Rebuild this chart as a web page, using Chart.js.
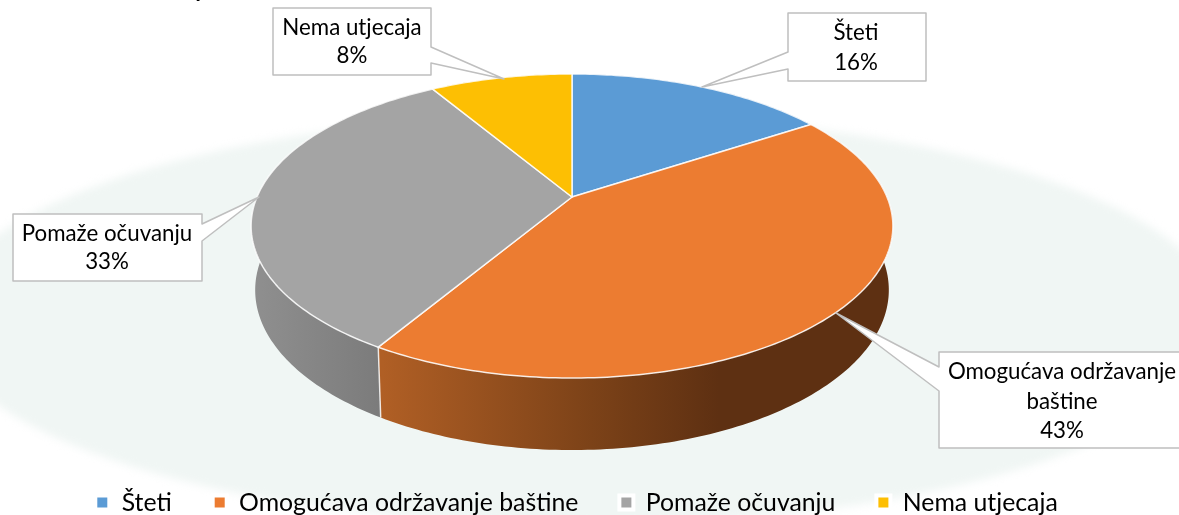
<!DOCTYPE html>
<html>
<head>
<meta charset="utf-8">
<script src="https://cdn.jsdelivr.net/npm/chart.js@4/dist/chart.umd.min.js"></script>
<style>
  html, body { margin: 0; padding: 0; background: #fff; }
  #wrap { width: 1179px; height: 515px; }
</style>
</head>
<body>
<div id="wrap"><canvas id="pita"></canvas></div>
<script>
// Podaci
const kategorije = ["Šteti", "Omogućava održavanje baštine", "Pomaže očuvanju", "Nema utjecaja"];
const vrijednosti = [15.8, 42.8, 32.8, 8.6];
const postoci = ["16%", "43%", "33%", "8%"];
const boje = ["#5B9BD5", "#EC7C31", "#A4A4A4", "#FDBF03"];

const FONT = "Lato, 'Open Sans', sans-serif";

// Perspektiva: gornja ploha i donji rub kolača
const K = 0.1908;
const CX = 572;
const gore = { A: 315, B: 146.5, y0: 197 };
const dolje = { A: 311, B: 154.2, y0: 259.5 };

// Bočni zid, boje po x
const zidovi = [
  [[0, "#3F6C95"], [1, "#3F6C95"]],
  [[0.2, "#B05F25"], [0.53, "#7C4218"], [0.73, "#5E3012"], [1, "#5E3012"]],
  [[0.0, "#8F8F8F"], [0.2, "#7B7B7B"], [1, "#7B7B7B"]],
  [[0, "#B08600"], [1, "#B08600"]]
];

// Oblačići s oznakama: pravokutnik, vrh i baza strelice, retci teksta
const oblacici = [
  { x: 788, y: 13, w: 138, h: 68, tip: [702, 87], b1: [788, 52], b2: [788, 69], tx: 856, ty: [40, 70], linije: ["Šteti"] },
  { x: 939, y: 352, w: 245, h: 96, tip: [836, 313], b1: [939, 367], b2: [939, 391], tx: 1062, ty: [379, 409, 438], linije: ["Omogućava održavanje", "baštine"] },
  { x: 13, y: 214, w: 189, h: 67, tip: [259, 197], b1: [202, 224], b2: [202, 241], tx: 107, ty: [241, 269], linije: ["Pomaže očuvanju"] },
  { x: 273, y: 8, w: 158, h: 67, tip: [504, 79], b1: [431, 47], b2: [431, 63], tx: 352, ty: [35, 63], linije: ["Nema utjecaja"] }
];

function tocka(a, p) {
  const u = Math.cos(a), v = Math.sin(a), w = 1 - K * v;
  return [CX + p.A * u / w, p.y0 + p.B * v / w];
}

function luk(ctx, a0, a1, p, prvi) {
  const n = Math.max(2, Math.ceil(Math.abs(a1 - a0) * 60));
  for (let i = 0; i <= n; i++) {
    const t = tocka(a0 + (a1 - a0) * i / n, p);
    if (i === 0 && prvi) ctx.moveTo(t[0], t[1]);
    else ctx.lineTo(t[0], t[1]);
  }
}

const pozadina = {
  id: "pozadina",
  beforeDraw(chart) {
    const ctx = chart.ctx;
    ctx.save();
    ctx.fillStyle = "#fff";
    ctx.fillRect(0, 0, chart.width, chart.height);
    ctx.filter = "blur(4px)";
    ctx.fillStyle = "#F0F6F4";
    ctx.beginPath();
    ctx.ellipse(580, 320, 640, 205, 0, 0, Math.PI * 2);
    ctx.fill();
    ctx.restore();
  }
};

// Crta kolač u 3D umjesto ravnih lukova, kutevi dolaze iz Chart.js elemenata
const kolac3d = {
  id: "kolac3d",
  beforeDatasetsDraw(chart) {
    const ctx = chart.ctx;
    const lukovi = chart.getDatasetMeta(0).data;
    ctx.save();

    // zidovi
    lukovi.forEach((el, i) => {
      const g = ctx.createLinearGradient(255, 0, 890, 0);
      zidovi[i].forEach(s => g.addColorStop(s[0], s[1]));
      ctx.fillStyle = g;
      ctx.beginPath();
      luk(ctx, el.startAngle, el.endAngle, gore, true);
      luk(ctx, el.endAngle, el.startAngle, dolje, false);
      ctx.closePath();
      ctx.fill();
    });
    ctx.strokeStyle = "rgba(255,255,255,0.8)";
    ctx.lineWidth = 1.5;
    lukovi.forEach(el => {
      const a = tocka(el.startAngle, gore), b = tocka(el.startAngle, dolje);
      ctx.beginPath();
      ctx.moveTo(a[0], a[1]);
      ctx.lineTo(b[0], b[1]);
      ctx.stroke();
    });

    // gornja ploha
    lukovi.forEach(el => {
      ctx.fillStyle = el.options.backgroundColor;
      ctx.strokeStyle = el.options.borderColor;
      ctx.lineWidth = el.options.borderWidth;
      ctx.lineJoin = "round";
      ctx.beginPath();
      ctx.moveTo(CX, gore.y0);
      luk(ctx, el.startAngle, el.endAngle, gore, false);
      ctx.closePath();
      ctx.fill();
      ctx.stroke();
    });

    // oblačići
    ctx.font = "22.3px " + FONT;
    ctx.textAlign = "center";
    ctx.textBaseline = "alphabetic";
    oblacici.forEach((o, i) => {
      ctx.fillStyle = "#fff";
      ctx.strokeStyle = "#BFBFBF";
      ctx.lineWidth = 1.5;
      ctx.beginPath();
      ctx.moveTo(o.x, o.y);
      ctx.lineTo(o.x + o.w, o.y);
      if (o.b1[0] === o.x + o.w) {
        ctx.lineTo(o.b1[0], o.b1[1]);
        ctx.lineTo(o.tip[0], o.tip[1]);
        ctx.lineTo(o.b2[0], o.b2[1]);
      }
      ctx.lineTo(o.x + o.w, o.y + o.h);
      ctx.lineTo(o.x, o.y + o.h);
      if (o.b1[0] === o.x) {
        ctx.lineTo(o.b2[0], o.b2[1]);
        ctx.lineTo(o.tip[0], o.tip[1]);
        ctx.lineTo(o.b1[0], o.b1[1]);
      }
      ctx.closePath();
      ctx.fill();
      ctx.stroke();
      ctx.fillStyle = "#000";
      o.linije.concat(postoci[i]).forEach((tekst, j) => ctx.fillText(tekst, o.tx, o.ty[j]));
    });

    // odrezani naslov na vrhu slike
    ctx.font = "bold 24px " + FONT;
    ctx.fillText("y", 200, -3);

    ctx.restore();
    return false;
  }
};

const ctx = document.getElementById("pita").getContext("2d");
new Chart(ctx, {
  type: "pie",
  data: {
    labels: kategorije,
    datasets: [{
      data: vrijednosti,
      backgroundColor: boje,
      borderColor: "rgba(255,255,255,0.85)",
      borderWidth: 1.5
    }]
  },
  options: {
    responsive: true,
    maintainAspectRatio: false,
    animation: false,
    layout: { padding: { bottom: -10, right: 26 } },
    plugins: {
      title: { display: false },
      tooltip: { enabled: false },
      legend: {
        position: "bottom",
        labels: {
          color: "#000",
          font: { family: FONT, size: 24.8 },
          boxWidth: 14,
          boxHeight: 14,
          padding: 41,
          generateLabels(chart) {
            const stavke = Chart.overrides.doughnut.plugins.legend.labels.generateLabels(chart);
            stavke.forEach(s => { s.strokeStyle = "#fff"; s.lineWidth = 4; });
            return stavke;
          }
        }
      }
    }
  },
  plugins: [pozadina, kolac3d]
});
</script>
</body>
</html>
